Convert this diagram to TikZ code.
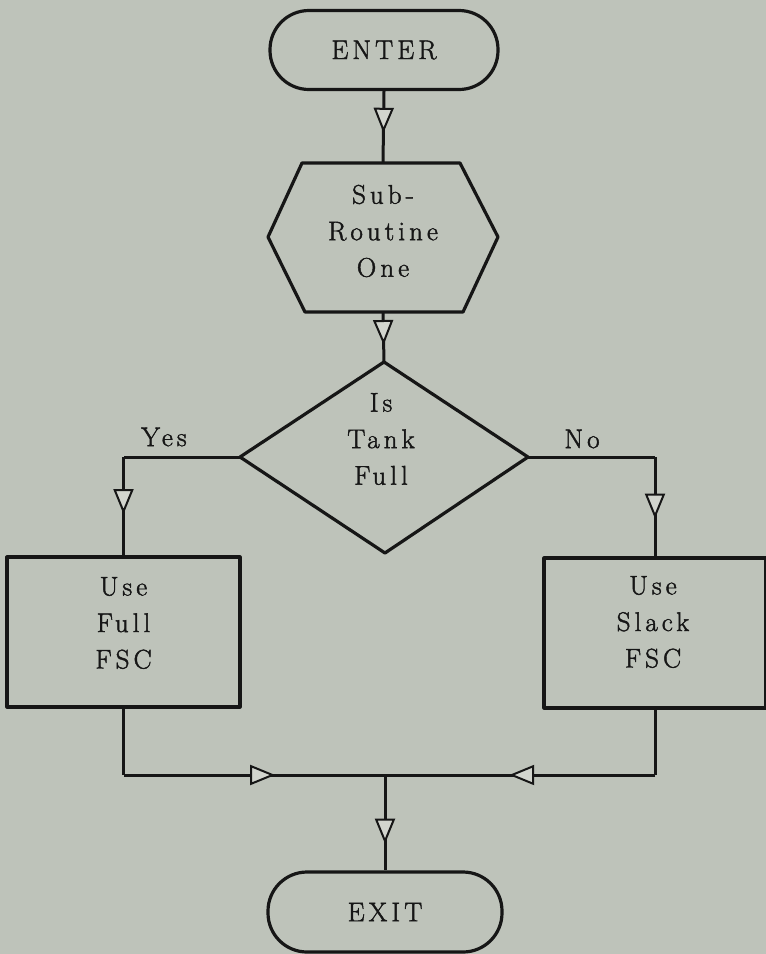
\documentclass[tikz,border=0pt]{standalone}
\usepackage{fontspec}
\setmainfont{Latin Modern Roman}[LetterSpace=15, FakeBold=1.6]
\usetikzlibrary{arrows.meta,decorations.markings}
\definecolor{bg}{RGB}{190,195,186}
\definecolor{tipfill}{RGB}{210,213,206}
\definecolor{ink}{RGB}{22,22,22}
\tikzset{
  conn/.style={draw=ink, line width=3pt},
  midarrow/.style={postaction={decorate,decoration={markings,
      mark=at position #1 with {\arrow{Triangle[length=25pt,width=20pt,fill=tipfill,line width=2pt]}}}}},
  shapeline/.style={draw=ink, line width=3.2pt, line join=round},
  term/.style={shapeline, rounded corners=39pt, minimum width=228pt, minimum height=79pt,
      inner sep=0pt, text=ink, font=\fontsize{27}{36.5}\selectfont},
  procbox/.style={shapeline, minimum height=150pt, inner sep=0pt},
  txt/.style={align=center, inner sep=0pt, text=ink, font=\fontsize{27}{36.5}\selectfont},
}
\begin{document}
\begin{tikzpicture}[x=1pt,y=-1pt]
\useasboundingbox (0,0) rectangle (766,954);
\fill[bg] (0,0) rectangle (766,954);

% terminals
\node[term] (enter) at (384,50) {ENTER};
\node[term, minimum width=234pt, minimum height=80pt] (exit) at (385,912) {EXIT};

% hexagon (sub-routine)
\coordinate (hT) at (383,163);
\coordinate (hB) at (383,312);
\draw[shapeline] (302,163) -- (460,163) -- (498,237) -- (463,312) -- (305,312) -- (268,237) -- cycle;
\node[txt] (sub) at (383,231) {Sub-\\Routine\\One};

% decision diamond
\coordinate (dT) at (384,362);
\coordinate (dL) at (240,457);
\coordinate (dR) at (528,457);
\coordinate (dB) at (385,553);
\draw[shapeline] (dT) -- (dR) -- (dB) -- (dL) -- cycle;
\node[txt] (tank) at (381,439) {Is\\Tank\\Full};

% process boxes
\node[procbox, minimum width=233pt] (full) at (123.5,632) {};
\node[txt] (fulltxt) at (123.5,623) {Use\\Full\\FSC};
\node[procbox, minimum width=222pt] (slack) at (655,633) {};
\node[txt] (slacktxt) at (653,622) {Use\\Slack\\FSC};

% labels
\node[txt] (yes) at (164,437) {Yes};
\node[txt] (no) at (582,439) {No};

% corner / junction coordinates
\coordinate (cY) at (123.5,457);
\coordinate (cN) at (655,457);
\coordinate (cL) at (123.5,775);
\coordinate (cR) at (655,775);
\coordinate (j) at (385,775);

% connectors
\draw[conn, midarrow=0.58] (enter.south) -- (hT);
\draw[conn, midarrow=0.66] (hB) -- (dT);
\draw[conn] (dL) -- (cY);
\draw[conn, midarrow=0.58] (cY) -- (full.north);
\draw[conn] (dR) -- (cN);
\draw[conn, midarrow=0.62] (cN) -- (slack.north);
\draw[conn] (full.south) -- (cL);
\draw[conn] (slack.south) -- (cR);
\draw[conn, midarrow=0.58] (cL) -- (j);
\draw[conn, midarrow=0.54] (cR) -- (j);
\draw[conn, midarrow=0.72] (j) -- (exit.north);
\end{tikzpicture}
\end{document}
